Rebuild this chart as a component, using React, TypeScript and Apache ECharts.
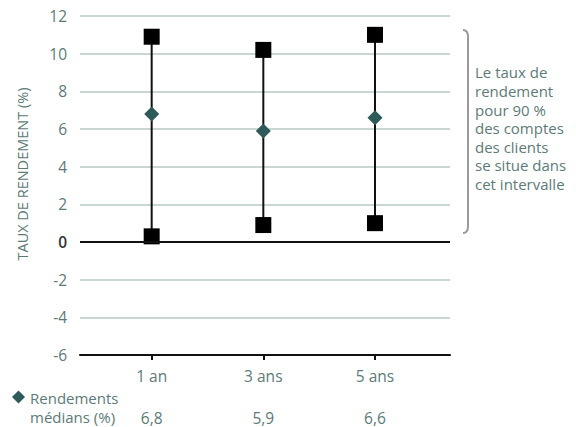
import React, { useEffect, useRef } from "react";
import * as echarts from "echarts";

const categories = ["1 an", "3 ans", "5 ans"];
const highs = [10.9, 10.2, 11.0];
const lows = [0.3, 0.9, 1.0];
const medians = [6.8, 5.9, 6.6];
const yMin = -6;
const yMax = 12;
const yInterval = 2;
const yAxisTitle = "TAUX DE RENDEMENT (%)";
const noteLines = [
  "Le taux de",
  "rendement",
  "pour 90 %",
  "des comptes",
  "des clients",
  "se situe dans",
  "cet intervalle",
];
const legendLines = ["Rendements", "médians (%)"];

const FONT = "'Open Sans', 'Noto Sans', sans-serif";
const LABEL = "#5d7a78";
const GRID = "#b7c8c6";
const TEAL = "#2e5a59";
const W = 400;
const FS = 15.5;

echarts.graphic.registerShape(
  "bracket",
  echarts.graphic.extendPath("M0,0 Q5,0 5,7 L5,196 Q5,203 0,203", {}) as any
);

export default function App() {
  const ref = useRef<HTMLDivElement>(null);
  useEffect(() => {
    if (!ref.current) return;
    const chart = echarts.init(ref.current, null, { renderer: "svg" });
    const xs = categories.map((_, i) => i + 1);
    const xMin = 0.358;
    const xMax = 3.672;
    chart.setOption({
      animation: false,
      textStyle: { fontFamily: FONT },
      grid: { left: 80, right: 126, top: 16, bottom: 72, containLabel: false },
      xAxis: [
        {
          type: "value",
          min: xMin,
          max: xMax,
          position: "bottom",
          splitLine: { show: false },
          axisLine: { show: true, onZero: false, lineStyle: { color: "#111", width: 2 } },
          axisTick: { show: true, customValues: xs, length: 5, lineStyle: { color: "#111", width: 2 } },
          axisLabel: {
            customValues: xs,
            formatter: (v: number) => categories[Math.round(v) - 1] ?? "",
            color: LABEL,
            fontSize: FS,
            fontWeight: W,
            fontFamily: FONT,
            margin: 13,
          },
        },
        {
          type: "value",
          min: xMin,
          max: xMax,
          position: "bottom",
          offset: 42,
          splitLine: { show: false },
          axisLine: { show: false },
          axisTick: { show: false, customValues: xs },
          axisLabel: {
            customValues: xs,
            formatter: (v: number) => {
              const m = medians[Math.round(v) - 1];
              return m === undefined ? "" : m.toFixed(1).replace(".", ",");
            },
            color: LABEL,
            fontSize: FS,
            lineHeight: 15,
            fontWeight: W,
            fontFamily: FONT,
            margin: 13,
          },
        },
      ],
      yAxis: {
        type: "value",
        min: yMin,
        max: yMax,
        interval: yInterval,
        axisLine: { show: false },
        axisTick: { show: false },
        splitLine: { show: true, lineStyle: { color: GRID, width: 1.5 } },
        axisLabel: {
          margin: 13,
          fontSize: FS,
          fontWeight: W,
          fontFamily: FONT,
          color: LABEL,
          formatter: (v: number) => (v === 0 ? "{z|0}" : String(v)),
          rich: {
            z: { color: "#333", fontSize: FS, fontWeight: 600, fontFamily: FONT },
          },
        },
      },
      series: [
        {
          type: "custom",
          xAxisIndex: 0,
          z: 2,
          data: xs.map((x, i) => [x, lows[i], highs[i]]),
          renderItem: (_params: any, api: any) => {
            const a = api.coord([api.value(0), api.value(1)]);
            const b = api.coord([api.value(0), api.value(2)]);
            return {
              type: "line",
              shape: { x1: a[0], y1: a[1], x2: b[0], y2: b[1] },
              style: { stroke: "#111", lineWidth: 2 },
            };
          },
          markLine: {
            silent: true,
            symbol: "none",
            label: { show: false },
            lineStyle: { color: "#111", width: 2, type: "solid" },
            data: [{ yAxis: 0 }],
          },
        },
        {
          type: "scatter",
          xAxisIndex: 0,
          z: 3,
          symbol: "rect",
          symbolSize: 16,
          itemStyle: { color: "#000", opacity: 1 },
          data: [...xs.map((x, i) => [x, highs[i]]), ...xs.map((x, i) => [x, lows[i]])],
        },
        {
          type: "scatter",
          xAxisIndex: 0,
          z: 4,
          symbol: "diamond",
          symbolSize: 15,
          itemStyle: { color: TEAL, opacity: 1 },
          data: xs.map((x, i) => [x, medians[i]]),
        },
      ],
      graphic: [
        {
          type: "text",
          x: 22,
          y: 174,
          rotation: Math.PI / 2,
          style: {
            text: yAxisTitle,
            fill: LABEL,
            font: `${W} 14.5px ${FONT}`,
            align: "center",
            verticalAlign: "middle",
          },
        },
        {
          type: "bracket",
          x: 463,
          y: 30,
          style: { fill: "none", stroke: "#9a9a9a", lineWidth: 2 },
        },
        {
          type: "text",
          x: 475,
          y: 63,
          style: {
            text: noteLines.join("\n"),
            fill: LABEL,
            font: `${W} 15px ${FONT}`,
            lineHeight: 18.6,
            align: "left",
            verticalAlign: "top",
          },
        },
        {
          type: "polygon",
          shape: { points: [[18.5, 390.5], [25, 397], [18.5, 403.5], [12, 397]] },
          style: { fill: TEAL },
        },
        {
          type: "text",
          x: 30,
          y: 397.5,
          style: {
            text: legendLines[0],
            fill: LABEL,
            font: `${W} 15px ${FONT}`,
            lineHeight: 15,
            align: "left",
            verticalAlign: "middle",
          },
        },
        {
          type: "text",
          x: 30,
          y: 417,
          style: {
            text: legendLines[1],
            fill: LABEL,
            font: `${W} 15px ${FONT}`,
            lineHeight: 15,
            align: "left",
            verticalAlign: "middle",
          },
        },
      ],
    });
    return () => chart.dispose();
  }, []);
  return <div ref={ref} style={{ width: 576, height: 427, position: "absolute", left: 0, top: 0 }} />;
}
